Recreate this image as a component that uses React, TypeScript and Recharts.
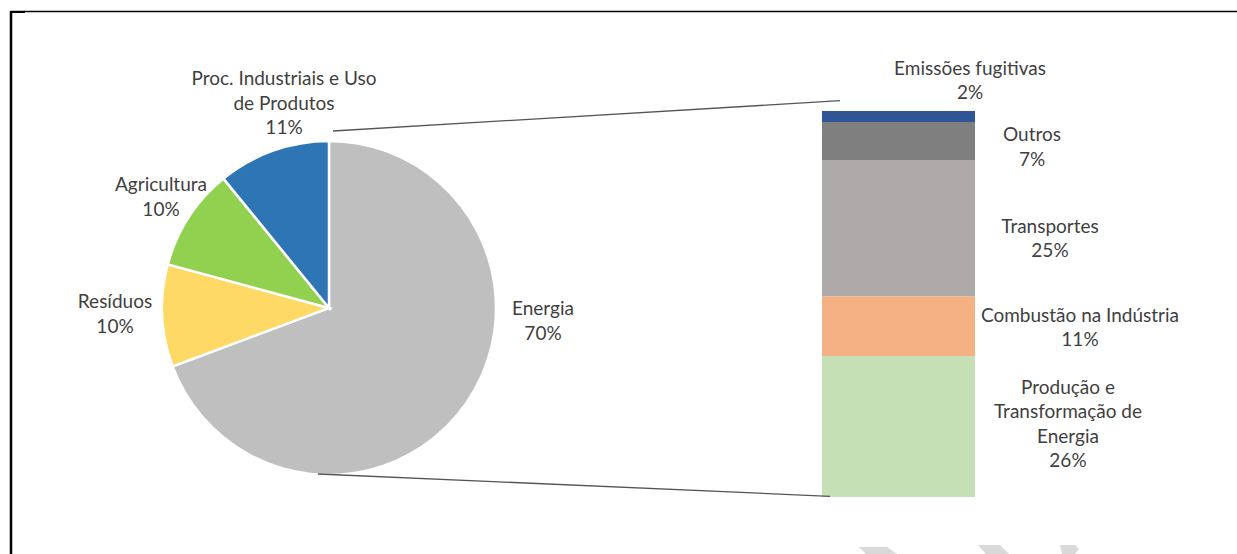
import React from 'react';
import { PieChart, Pie, Cell, BarChart, Bar, XAxis, YAxis, LabelList } from 'recharts';

// ---- Data ----
const sectorNames = ['Energia', 'Resíduos', 'Agricultura', 'Proc. Industriais e Uso de Produtos'];
const sectorShares = [70, 10, 10, 11];
const sectorLabelLines = [['Energia'], ['Resíduos'], ['Agricultura'], ['Proc. Industriais e Uso', 'de Produtos']];

const energyKeys = ['prod', 'comb', 'transp', 'outros', 'emis'];
const energyNames = ['Produção e Transformação de Energia', 'Combustão na Indústria', 'Transportes', 'Outros', 'Emissões fugitivas'];
const energyShares = [26, 11, 25, 7, 2];
const energyLabelLines = [['Produção e', 'Transformação de', 'Energia'], ['Combustão na Indústria'], ['Transportes'], ['Outros'], ['Emissões fugitivas']];

// ---- Styles / layout ----
const W = 1237;
const H = 554;
const FONT = 'Lato, "Open Sans", sans-serif';
const FS = 19;
const LH = 24.5;
const TXT = '#3F3F3F';
const pieColors = ['#BFBFBF', '#FFD966', '#92D050', '#2E75B6'];
const barColors = ['#C5E0B4', '#F4B183', '#AEAAAA', '#7F7F7F', '#2F5597'];
const PIE_CX = 329;
const PIE_CY = 308;
const PIE_R = 167;
const pieLabelOffsets = [[214, 12], [-214, 5], [-168, -112], [-45, -206]];
const BAR_LEFT = 822;
const BAR_TOP = 110.7;
const BAR_W = 153;
const BAR_H = 386.6;
const BAR_MARGIN_TOP = 60;
const BAR_MARGIN_RIGHT = 260;
const barLabelOffsets = [[93, -4], [105, 0.5], [75, 9.5], [57, 5], [-5, -37]];

const pieData = sectorNames.map((name, i) => ({ name, value: sectorShares[i] }));
const barRow: Record<string, any> = { name: 'Energia' };
energyKeys.forEach((k, i) => { barRow[k] = energyShares[i]; });
const barData = [barRow];
const barTotal = energyShares.reduce((a, b) => a + b, 0);

function MultiLine({ x, y, lines }: { x: number; y: number; lines: string[] }) {
  const n = lines.length;
  return (
    <text x={x} y={y} textAnchor="middle" fill={TXT} fontFamily={FONT} fontSize={FS}>
      {lines.map((l, i) => (
        <tspan key={i} x={x} y={y + (i - (n - 1) / 2) * LH} dominantBaseline="central">{l}</tspan>
      ))}
    </text>
  );
}

const renderPieLabel = (props: any) => {
  const { cx, cy, index } = props;
  const [dx, dy] = pieLabelOffsets[index];
  const lines = [...sectorLabelLines[index], `${sectorShares[index]}%`];
  return <MultiLine key={`pl${index}`} x={cx + dx} y={cy + dy} lines={lines} />;
};

const makeBarLabel = (si: number) => (props: any) => {
  const { x, y, width, height } = props;
  const [dx, dy] = barLabelOffsets[si];
  const lines = [...energyLabelLines[si], `${energyShares[si]}%`];
  return <MultiLine x={Number(x) + Number(width) + dx} y={Number(y) + Number(height) / 2 + dy} lines={lines} />;
};

export default function App() {
  return (
    <div style={{ position: 'absolute', left: 0, top: 0, width: W, height: H, background: '#fff', overflow: 'hidden' }}>
      <div style={{ position: 'absolute', left: 0, top: 0 }}>
        <PieChart width={W} height={H} margin={{ top: 0, right: 0, bottom: 0, left: 0 }}>
          <Pie
            data={pieData}
            dataKey="value"
            nameKey="name"
            cx={PIE_CX}
            cy={PIE_CY}
            outerRadius={PIE_R}
            startAngle={90}
            endAngle={-270}
            stroke="#FFFFFF"
            strokeWidth={2.5}
            label={renderPieLabel}
            labelLine={false}
            isAnimationActive={false}
          >
            {pieData.map((d, i) => (
              <Cell key={d.name} fill={pieColors[i]} />
            ))}
          </Pie>
        </PieChart>
      </div>
      <div style={{ position: 'absolute', left: BAR_LEFT, top: BAR_TOP - BAR_MARGIN_TOP }}>
        <BarChart
          width={BAR_W + BAR_MARGIN_RIGHT}
          height={BAR_H + BAR_MARGIN_TOP}
          data={barData}
          margin={{ top: BAR_MARGIN_TOP, right: BAR_MARGIN_RIGHT, bottom: 0, left: 0 }}
          barCategoryGap="0%"
          barGap={0}
        >
          <XAxis dataKey="name" hide padding={{ left: 0, right: 0 }} />
          <YAxis hide domain={[0, barTotal]} />
          {energyKeys.map((k, i) => (
            <Bar key={k} dataKey={k} name={energyNames[i]} stackId="e" fill={barColors[i]} isAnimationActive={false}>
              <LabelList dataKey={k} content={makeBarLabel(i)} />
            </Bar>
          ))}
        </BarChart>
      </div>
      <svg width={W} height={H} style={{ position: 'absolute', left: 0, top: 0, pointerEvents: 'none' }}>
        {/* frame */}
        <line x1={10} y1={11.5} x2={W} y2={11.5} stroke="#000" strokeWidth={1.5} />
        <line x1={11} y1={11} x2={11} y2={H} stroke="#000" strokeWidth={2.5} />
        <line x1={10} y1={12} x2={25} y2={12} stroke="#000" strokeWidth={2} />
        {/* connector lines */}
        <line x1={PIE_CX + 4} y1={PIE_CY - PIE_R - 10} x2={BAR_LEFT + 18} y2={BAR_TOP - 10} stroke="#555" strokeWidth={1.3} />
        <line x1={PIE_CX - 11} y1={PIE_CY + PIE_R - 1} x2={BAR_LEFT + 8} y2={BAR_TOP + BAR_H - 1} stroke="#555" strokeWidth={1.3} />
        {/* watermark fragments */}
        <polygon points="859,547 887,547 897,554 866,554" fill="#D9D9D9" />
        <polygon points="978,545 1000,545 1009,554 986,554" fill="#D9D9D9" />
        <polygon points="1060,545 1075,545 1079,549 1075,554 1062,554" fill="#D9D9D9" />
      </svg>
    </div>
  );
}
